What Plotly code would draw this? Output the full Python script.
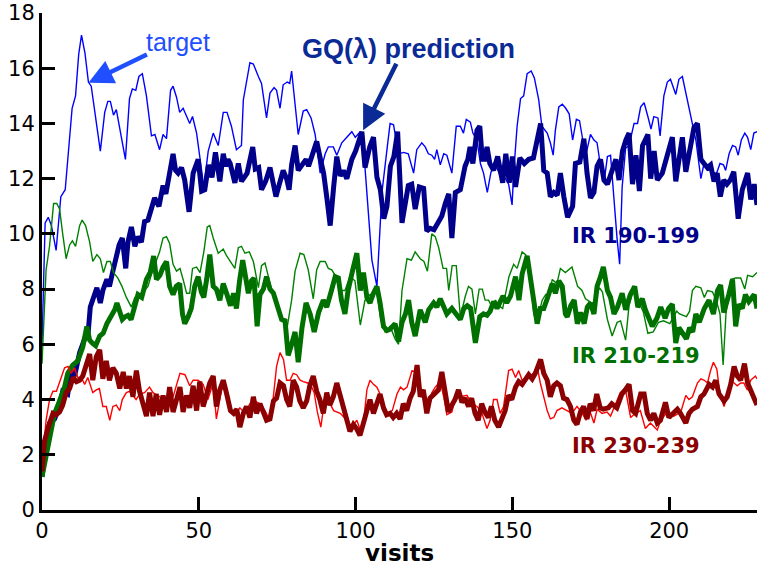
import plotly.graph_objects as go

# ---------------- data ----------------
# IR 190-199 target (thin blue)
tb_x = [0, 1, 2, 3, 4.5, 6, 7.4, 8.8, 9.6, 10.7, 11.7, 12.6, 13.7, 14.8, 15.7, 18.6, 20, 21, 21.8, 22.8,
        23.7, 26.6, 27.9, 28.8, 29.9, 30.9, 32, 33.3, 34.9, 36, 37.5, 38.6, 39.7, 41, 41.8, 42.9, 43.9, 45,
        46.1, 47.1, 48, 49.3, 51.6, 53, 54.6, 56.2, 57.8, 59, 60.4, 62, 63.6, 64.2, 66.3, 67.4, 69, 70,
        71.6, 72.7, 74, 74.8, 75.9, 76.9, 78.2, 79, 79.6, 81.7, 83.3, 84.4, 85.8, 87.1, 88.7, 90.3, 91.3,
        92.9, 94, 95.6, 97.2, 98.8, 99.9, 101.5, 103, 105.2, 106.8, 108.4, 110, 111, 112.1, 113.7, 115.3,
        116.8, 118.5, 119.5, 121.1, 122.2, 123.2, 124.3, 125.2, 125.9, 127, 128.1, 129.1, 130.7, 132.1,
        133.4, 134.4, 135.3, 136.6, 137.4, 138.7, 139.8, 140.8, 142, 143.1, 144.2, 146.2, 147.8, 148.8,
        149.9, 150.4, 151.5, 152.6, 153.6, 154.7, 156, 157, 158.4, 159.4, 161.1, 162.1, 163, 163.7, 164.8,
        165.9, 167, 168.1, 169.2, 170.4, 171.4, 172.3, 173.3, 174.9, 176, 177, 178.1, 179.2, 180.3, 181.3,
        182.4, 183.4, 184.2, 185, 186.1, 187.2, 188.8, 189.9, 190.9, 192, 193.2, 194.2, 195.1, 196.4,
        197.1, 198.3, 199.4, 200.4, 202.1, 203.1, 204.2, 205.3, 206.3, 207.4, 208.5, 210.1, 211.2, 212.2,
        213.8, 214.8, 216.2, 217.3, 218, 219.1, 220.2, 221.2, 222, 223, 224.1, 225, 226, 227, 228]
tb_y = [6.0, 10.4, 10.6, 10.3, 9.4, 11.35, 11.6, 13.5, 14.55, 15.0, 16.5, 17.2, 16.55, 15.5, 15.35, 13.0,
        14.4, 14.8, 14.8, 14.3, 14.5, 12.7, 14.9, 15.25, 15.2, 15.7, 15.8, 15.0, 13.55, 13.6, 13.05, 13.6,
        13.45, 15.2, 15.35, 14.95, 14.4, 14.55, 14.25, 14.0, 14.25, 13.65, 11.7, 13.0, 13.65, 13.2, 14.4,
        14.4, 13.9, 13.05, 13.2, 14.85, 16.2, 16.15, 15.7, 15.45, 14.2, 15.1, 15.3, 15.2, 14.55, 15.4,
        15.5, 15.45, 15.9, 13.6, 14.45, 14.5, 14.2, 13.6, 12.2, 12.9, 13.15, 13.15, 12.85, 13.3, 13.5,
        13.7, 13.5, 13.7, 12.4, 9.05, 8.1, 11.5, 13.05, 14.0, 13.95, 12.9, 12.95, 12.9, 12.2, 13.05, 13.3,
        13.15, 12.9, 12.85, 12.7, 13.05, 12.5, 12.9, 12.85, 12.2, 13.9, 13.9, 13.65, 14.15, 14.05, 13.65,
        13.4, 12.55, 12.2, 11.5, 12.2, 12.6, 12.1, 12.0, 11.8, 11.05, 12.2, 13.9, 14.9, 15.0, 15.8, 15.9,
        15.65, 14.85, 13.9, 13.65, 13.3, 12.85, 13.75, 14.6, 14.7, 14.55, 14.35, 13.4, 14.15, 14.1, 13.5,
        12.8, 13.6, 13.4, 13.3, 12.45, 11.85, 12.8, 12.85, 11.1, 9.8, 8.9, 11.7, 13.1, 13.2, 14.0, 14.0,
        14.6, 14.75, 14.25, 13.8, 14.25, 14.2, 13.55, 15.0, 15.5, 15.6, 15.05, 15.6, 15.7, 15.1, 14.6,
        14.0, 13.4, 12.0, 12.6, 12.3, 12.3, 12.1, 12.55, 12.5, 12.3, 12.9, 13.2, 13.15, 12.85, 13.4, 13.65,
        13.5, 13.05, 13.65, 13.7]

# IR 190-199 GQ(lambda) prediction (thick dark blue)
pb_x = [0, 1.2, 2.4, 4, 5.6, 6.6, 8.2, 9.3, 10.4, 12, 13.6, 14.7, 15.4, 16.3, 17.5, 18.6, 19.4, 20.7, 21.5,
        22.5, 23.7, 24.6, 25.6, 26.7, 27.4, 28.5, 29.6, 30.6, 31.7, 32.7, 33.8, 34.9, 35.9, 37.3, 38.6,
        39.5, 40.7, 41.8, 42.6, 43.4, 44.5, 45.5, 46.9, 48.2, 49.8, 50.9, 51.9, 53.1, 54.2, 55.3, 56.7,
        57.8, 58.6, 59.3, 60, 61.5, 62.6, 63.6, 65.4, 67.2, 68, 69.1, 70, 71.3, 72.7, 73.8, 74.6, 75.8,
        76.9, 78, 78.8, 79.6, 80.7, 81.7, 83, 84.2, 85, 86, 87.6, 88.8, 89.8, 90.9, 91.9, 93, 94, 95.1,
        96.1, 97.2, 98.8, 100, 101.2, 102, 103, 104.5, 105.7, 106.8, 107.9, 109, 110, 111.1, 112.2, 113.4,
        114.8, 115.9, 116.8, 117.9, 119, 120.3, 121.7, 122.7, 123.8, 125, 126.5, 127.5, 128.6, 129.7,
        130.7, 131.8, 133.4, 134.9, 135.8, 136.5, 137.4, 138.7, 139.6, 140.4, 141.2, 141.9, 142.8, 144,
        145.3, 146.9, 147.9, 149, 150, 151, 152.4, 153.8, 155.2, 156.7, 157.9, 159, 160, 161.1, 162.1,
        163.2, 164.3, 165.3, 166.4, 167.6, 169.2, 170.1, 171.5, 172.8, 173.8, 174.9, 176, 177, 178.1,
        179.2, 180.3, 181.3, 183, 184, 185.1, 186.2, 187.2, 188.3, 189.4, 190.5, 191.5, 193.2, 194.1,
        195.2, 196.2, 197.8, 199.4, 201, 202.1, 203.1, 204.2, 205.3, 206.8, 207.9, 209, 210.1, 211.1,
        212.2, 213.2, 214.3, 215.3, 216.3, 217.4, 218.4, 219.5, 220.6, 222, 223.3, 225, 226, 227.1, 228]
pb_y = [1.2, 2.4, 3.15, 3.3, 3.75, 4.3, 4.2, 5.05, 4.85, 5.7, 6.2, 6.4, 7.35, 7.6, 8.05, 7.5, 7.95, 8.35,
        8.1, 8.6, 9.3, 9.6, 9.85, 8.75, 9.7, 10.25, 9.55, 9.9, 9.7, 10.45, 10.5, 10.85, 11.3, 11.0, 11.75,
        11.45, 12.3, 12.9, 12.3, 12.2, 12.4, 11.95, 10.8, 12.2, 12.7, 11.55, 11.6, 12.5, 12.05, 12.95,
        11.9, 12.9, 12.45, 12.7, 12.55, 11.85, 12.55, 11.9, 12.2, 13.15, 12.35, 12.4, 11.6, 11.9, 12.4,
        11.8, 11.35, 11.85, 12.3, 12.0, 11.6, 12.5, 13.2, 12.3, 12.5, 12.7, 12.45, 12.8, 13.35, 12.7, 12.2,
        11.25, 10.3, 11.7, 12.8, 12.1, 12.3, 12.0, 12.7, 13.0, 13.5, 13.7, 12.4, 13.15, 13.5, 12.05, 11.6,
        10.55, 11.0, 12.45, 12.8, 13.7, 10.4, 11.3, 11.75, 11.8, 10.9, 11.7, 11.65, 10.1, 10.2, 10.15,
        10.5, 10.65, 11.1, 11.45, 9.85, 11.5, 11.6, 12.45, 12.7, 13.15, 12.55, 13.75, 13.9, 12.7, 12.7,
        13.15, 12.55, 12.3, 12.8, 11.85, 12.9, 11.85, 12.8, 11.7, 12.75, 12.55, 12.7, 12.75, 13.4, 14.0,
        12.3, 12.2, 11.35, 11.5, 11.4, 12.2, 11.35, 10.6, 11.0, 12.55, 12.6, 13.45, 12.2, 11.3, 11.5,
        12.45, 12.7, 11.95, 11.8, 12.1, 12.7, 11.95, 13.0, 13.4, 13.65, 11.8, 12.85, 11.55, 13.2, 13.6,
        12.0, 13.0, 11.95, 12.2, 12.8, 13.5, 11.9, 12.65, 13.5, 12.25, 13.15, 13.85, 14.0, 12.7, 12.55,
        12.4, 12.5, 11.9, 12.2, 11.35, 11.95, 11.8, 11.95, 12.25, 10.55, 11.6, 12.2, 11.25, 11.8, 11.05]

# IR 210-219 target (thin green)
tg_x = [0, 1.3, 2.4, 3, 3.7, 4.7, 5.6, 6.6, 7.7, 8.8, 9.7, 10.7, 12, 12.8, 13.9, 15.2, 16.2, 17.5, 18.6,
        19.6, 20.7, 21.8, 22.8, 24.2, 25.5, 26.9, 28.5, 29.6, 31.2, 32.7, 33.8, 35.2, 36.4, 37.5, 38.6,
        39.7, 40.7, 41.8, 42.9, 44, 45, 46.1, 47.1, 48, 49.3, 50.4, 51.6, 52.7, 53.5, 54.6, 56.2, 57.8,
        58.9, 60.4, 61.5, 62.6, 63.6, 64.7, 66.1, 67.4, 69, 70, 71.1, 72.1, 73.2, 74.8, 76.4, 78, 79.6,
        80.7, 82.3, 83.5, 84.9, 86.5, 87.6, 88.7, 90.3, 91.3, 92.4, 93.5, 95, 96.6, 98.2, 99.8, 101.5, 103,
        104.6, 106.8, 108, 109.4, 111, 112.6, 113.7, 114.8, 116.4, 117.8, 119, 120.6, 121.8, 122.9, 124.3,
        125.4, 126.5, 127.9, 129, 129.7, 130.8, 132.1, 133.4, 135, 136, 137.1, 138.2, 139.4, 140.4, 141.3,
        142.4, 143.5, 144.6, 145.7, 146.9, 148.9, 150.4, 151.5, 153.1, 154.2, 155.6, 156.8, 157.9, 159.5,
        160.6, 161.6, 162.7, 164.2, 165.3, 166.9, 168.3, 169, 170.8, 172.2, 173.3, 174.9, 176, 177.7,
        178.7, 180.3, 181.8, 183.4, 184.5, 186.1, 187.2, 188.5, 189.7, 191.8, 193.2, 194.9, 196.6, 198.2,
        200.2, 202.4, 203.3, 205.5, 206.5, 207.4, 208.5, 210.1, 211.2, 212.2, 213.8, 215, 216.2, 217.2,
        218.1, 219.6, 221.2, 222.8, 224.1, 225, 226.6, 228]
tg_y = [5.3, 8.7, 9.55, 10.4, 11.1, 11.1, 10.9, 10.0, 9.1, 9.6, 9.75, 9.55, 10.3, 10.5, 10.3, 9.7, 9.0,
        9.25, 9.1, 8.6, 9.0, 9.0, 8.6, 8.4, 8.1, 7.7, 7.35, 7.7, 7.8, 7.95, 8.1, 8.65, 9.0, 9.35, 9.85,
        9.9, 9.65, 8.9, 8.65, 8.75, 8.35, 7.85, 7.85, 8.75, 8.8, 8.6, 9.35, 10.25, 10.3, 9.85, 9.3, 9.45,
        9.2, 8.95, 8.75, 9.5, 9.55, 9.3, 9.35, 9.0, 8.05, 8.85, 8.95, 8.5, 7.95, 7.35, 7.0, 6.5, 7.6, 8.65,
        9.3, 9.25, 8.7, 7.65, 8.7, 9.0, 9.0, 8.75, 8.7, 8.5, 7.95, 7.95, 8.45, 8.3, 6.7, 7.6, 7.8, 7.9, 6.9,
        6.45, 6.65, 6.2, 6.0, 7.95, 9.1, 9.05, 9.35, 9.1, 9.0, 8.65, 10.0, 9.9, 9.5, 8.75, 8.75, 7.95, 8.85,
        8.85, 7.0, 7.75, 8.1, 8.0, 7.1, 8.0, 8.0, 7.6, 7.6, 7.35, 7.6, 7.4, 7.3, 8.45, 8.9, 8.75, 9.35,
        9.25, 8.75, 7.1, 6.85, 7.6, 7.8, 7.65, 8.35, 8.2, 8.75, 8.6, 8.75, 8.8, 8.1, 7.95, 7.65, 7.55,
        7.45, 8.05, 7.9, 6.9, 6.3, 6.8, 6.85, 6.15, 7.4, 7.95, 7.7, 7.15, 6.4, 6.45, 6.8, 6.85, 6.75, 7.2,
        7.1, 7.0, 7.2, 7.95, 8.1, 8.05, 7.7, 7.95, 7.9, 7.6, 7.1, 5.25, 7.1, 8.35, 8.4, 8.4, 8.0, 8.5,
        8.45, 8.6]

# IR 210-219 prediction (thick green)
pg_x = [0, 1.2, 2.4, 4, 5.6, 7.2, 8.2, 9.8, 11.4, 13, 14.3, 15.2, 16, 17.1, 18.4, 19.5, 20.7, 22.1, 23.2,
        23.9, 24.8, 25.6, 26.5, 27.4, 28.4, 29.6, 30.6, 31.8, 33.3, 34.5, 35.6, 36.5, 37.6, 38.6, 39.7,
        40.7, 41.8, 42.8, 43.9, 44.8, 45.5, 46.6, 47.6, 48.7, 49.8, 50.8, 51.6, 52.5, 53.5, 54.6, 55.6,
        56.7, 57.8, 59, 60.1, 61.1, 62, 63, 64, 65.8, 66.8, 67.6, 68.6, 69.5, 70.6, 71.6, 72.7, 73.8, 75,
        76.4, 77.5, 78.5, 79.6, 80.7, 81.7, 82.9, 84.2, 85.5, 86.8, 88.2, 89.7, 90.8, 92.3, 93.5, 94.5,
        95.5, 96.6, 97.6, 99.1, 100.4, 101.5, 102.5, 103.6, 104.6, 105.7, 106.8, 107.8, 108.9, 110, 111,
        112.6, 113.7, 114.8, 115.9, 116.9, 117.9, 119, 120.6, 122.2, 123.3, 124.9, 125.9, 127, 128.1,
        129.1, 130.7, 132.3, 133.4, 134.5, 135.6, 136.7, 137.2, 138.2, 139.6, 140.8, 141.9, 142.9, 144,
        145.1, 147, 148.2, 149.4, 151, 152.1, 153.1, 154.7, 155.7, 156.8, 157.9, 158.9, 160, 161.1, 162.7,
        163.7, 164.8, 165.9, 166.9, 167.5, 168.6, 169.7, 170.7, 171.8, 172.9, 173.9, 174.9, 176, 177,
        178.1, 179, 180.3, 181.3, 182.4, 183.5, 185, 186.1, 187.6, 189, 190, 191.4, 192.4, 193.5, 194.6,
        196.1, 197.3, 198.7, 199.8, 201, 202.1, 203.1, 204.4, 205.5, 206.5, 207.5, 208.5, 209.6, 211.2,
        212.7, 214.1, 215.4, 216.4, 217.4, 219, 220.2, 221.2, 222.2, 223.3, 224.3, 225.4, 227.1, 228]
pg_y = [1.2, 1.9, 2.65, 3.5, 3.95, 4.45, 4.95, 5.25, 5.4, 5.9, 6.65, 6.15, 6.05, 5.95, 6.3, 6.4, 6.75, 7.0,
        7.25, 7.5, 7.2, 6.9, 7.0, 7.05, 6.9, 7.45, 7.8, 7.7, 8.35, 8.6, 9.2, 8.35, 8.5, 8.8, 9.0, 8.1, 7.8,
        8.1, 8.2, 7.1, 6.75, 7.0, 7.3, 8.1, 8.45, 7.9, 7.7, 8.35, 9.25, 8.1, 8.0, 7.6, 8.2, 7.8, 7.4, 7.85,
        7.3, 8.3, 9.05, 7.85, 8.3, 8.4, 6.65, 7.8, 8.0, 8.45, 8.0, 7.85, 7.4, 6.9, 6.85, 5.6, 6.0, 6.45,
        5.35, 6.6, 7.5, 7.1, 6.45, 7.15, 7.6, 7.35, 7.95, 8.45, 8.4, 7.6, 7.1, 7.95, 8.7, 9.3, 7.95, 8.6,
        7.7, 7.5, 7.85, 8.1, 7.5, 6.65, 6.5, 6.55, 6.75, 6.1, 6.8, 7.1, 7.6, 6.8, 6.3, 7.25, 6.8, 7.25, 7.5,
        7.35, 7.65, 7.3, 7.1, 7.3, 7.1, 6.9, 7.3, 7.4, 7.3, 6.8, 6.05, 7.0, 7.1, 7.05, 7.2, 7.55, 7.3,
        7.75, 7.5, 7.75, 8.45, 7.6, 8.55, 9.2, 8.4, 7.75, 6.75, 7.3, 7.3, 7.65, 8.2, 7.85, 8.3, 8.1, 7.1,
        7.0, 7.4, 7.6, 6.75, 7.15, 6.75, 7.35, 7.5, 7.1, 8.1, 8.45, 8.8, 7.95, 7.7, 7.1, 7.35, 7.85, 7.25,
        7.8, 8.1, 7.35, 7.65, 7.25, 6.95, 6.65, 6.95, 7.35, 6.95, 7.3, 7.45, 6.05, 6.6, 6.35, 6.2, 6.6,
        6.45, 7.1, 6.8, 7.3, 7.6, 7.1, 7.95, 8.15, 7.15, 7.8, 8.35, 6.65, 7.45, 7.3, 7.8, 7.55, 7.8, 7.3]

# IR 230-239 target (thin red)
tr_x = [0, 1.3, 2.4, 3.5, 4.6, 5.6, 7.2, 8.3, 9.3, 10.4, 11.4, 12.5, 13.6, 14.6, 16.2, 17.3, 18.3, 19.4,
        20.5, 21.6, 22.6, 23.7, 24.8, 25.6, 26.9, 27.9, 29, 30, 31.1, 32.7, 34.3, 35.4, 37.6, 39.7, 41.8,
        44, 45.6, 47.1, 48.2, 49.8, 51.4, 52.9, 54.6, 55.6, 57.8, 58.9, 60.4, 61.5, 63.1, 64.7, 66.3, 67.9,
        69.5, 71.1, 72.2, 73.3, 74.8, 75.9, 77, 78, 79.1, 80.1, 81.2, 82.3, 83.3, 84.7, 85.8, 86.8, 87.8,
        88.9, 90.3, 91.4, 93, 95.1, 97.2, 98.8, 100.4, 101.5, 102.5, 103.6, 104.6, 105.7, 106.8, 107.8,
        109, 110, 111.7, 113.2, 114.3, 115.3, 116.4, 118, 119.1, 120.6, 122.2, 123.2, 124.3, 125.4, 127,
        128.1, 129.1, 130.7, 132.1, 133.4, 135.5, 137.1, 138.7, 140.3, 141.9, 142.9, 144, 145.1, 146.1,
        147.2, 148.8, 149.9, 151, 152, 153.1, 154.7, 156.8, 157.9, 158.9, 160, 161.1, 162.1, 163.2, 164.2,
        165.8, 167.4, 169, 170.6, 172, 173.5, 174.8, 176, 177, 178.6, 180.2, 181.3, 183.4, 184.4, 186,
        187.7, 188.7, 190.8, 192.4, 194, 196.2, 197.3, 199.4, 201.5, 203.7, 205.3, 206.3, 207.4, 209,
        210.1, 211.2, 212.2, 213.2, 214.1, 215.2, 216.2, 217.5, 218.5, 219.6, 220.7, 221.7, 222.8, 223.8,
        224.9, 226, 227.5, 228]
tr_y = [1.6, 3.25, 4.0, 4.3, 4.3, 4.6, 5.15, 5.2, 4.95, 5.15, 4.8, 4.8, 4.55, 4.8, 4.25, 4.35, 4.4, 3.75,
        3.75, 3.25, 3.75, 3.8, 3.6, 4.0, 4.25, 4.3, 4.15, 4.0, 4.2, 4.25, 4.45, 4.25, 4.1, 4.0, 4.1, 4.95,
        4.9, 4.5, 4.7, 4.7, 4.55, 4.0, 4.6, 3.3, 4.7, 4.4, 3.6, 3.45, 3.7, 3.5, 3.85, 3.95, 3.85, 3.6,
        3.35, 3.6, 5.2, 5.7, 5.45, 4.7, 4.7, 4.95, 4.9, 4.7, 4.65, 4.6, 4.5, 4.25, 3.55, 3.0, 4.1, 3.95,
        3.6, 3.5, 3.25, 3.0, 3.25, 2.9, 3.15, 4.35, 4.7, 4.55, 4.45, 4.2, 3.75, 3.5, 3.6, 4.2, 4.45, 4.35,
        4.45, 5.05, 5.0, 4.3, 4.15, 3.65, 4.25, 4.45, 4.65, 4.1, 3.45, 3.55, 4.2, 4.1, 4.15, 3.85, 3.75,
        3.5, 2.95, 3.25, 4.0, 4.0, 3.5, 3.75, 5.05, 5.1, 4.8, 5.05, 4.7, 4.8, 4.95, 5.2, 4.6, 4.1, 3.6, 3.3,
        3.35, 3.6, 3.7, 3.6, 3.5, 3.75, 3.55, 3.25, 3.55, 3.15, 3.65, 3.5, 3.55, 3.4, 4.0, 4.25, 4.4, 3.35,
        3.45, 3.6, 2.95, 3.15, 2.9, 3.25, 3.55, 3.4, 3.55, 4.15, 4.0, 4.1, 4.6, 4.75, 4.7, 4.6, 5.05, 5.35,
        5.1, 4.2, 3.75, 4.2, 4.7, 4.6, 4.5, 4.6, 4.6, 4.35, 4.7, 4.85, 4.75]

# IR 230-239 prediction (thick dark red)
pr_x = [0, 0.8, 2, 3.5, 4.5, 5.6, 6.6, 7.7, 8.8, 9.9, 11, 12, 13, 14.1, 15.2, 16.2, 17.3, 18.4, 19.4,
        20.5, 21.5, 22.6, 23.7, 24.8, 25.9, 26.9, 27.9, 29, 30.1, 31.1, 32.2, 33.3, 34.3, 35.4, 36.4, 37.5,
        38.6, 39.7, 40.7, 41.8, 42.9, 44, 45, 46.1, 47.1, 48.2, 49.3, 50.3, 51.4, 52.4, 53.5, 54.6, 55.6,
        56.7, 57.8, 58.9, 60.1, 61.1, 62.1, 63.1, 64.2, 65.2, 66.3, 67.4, 68.4, 69.5, 70.5, 71.6, 72.7,
        73.8, 74.8, 75.9, 77, 78, 79, 80.1, 81.2, 82.2, 83.3, 84.4, 85.4, 86.5, 87.6, 88.6, 89.7, 90.8,
        91.8, 92.9, 94, 95.1, 96.1, 97.2, 98.2, 99.3, 100.3, 101.4, 102.5, 103.5, 104.6, 105.7, 106.7,
        107.8, 108.9, 109.9, 111, 112, 113.1, 114.2, 115.2, 116.3, 117.4, 118.4, 119.6, 120.6, 121.6,
        122.7, 123.7, 124.8, 126.4, 127.5, 128.5, 129.6, 130.7, 131.7, 132.8, 133.9, 134.9, 136, 137,
        138.1, 139.1, 140.2, 141.2, 142.3, 143.3, 144.4, 145.6, 146.6, 147.7, 148.7, 149.8, 151, 152,
        153.1, 154.2, 155.2, 156.3, 157.3, 159, 160, 161.1, 162.1, 163.2, 164.2, 165.3, 166.3, 167.4,
        168.5, 169.6, 170.6, 171.7, 172.7, 173.8, 174.8, 175.9, 176.9, 178, 179, 180.6, 181.7, 183.3,
        184.9, 186, 187.2, 188.3, 189.3, 190.9, 192, 193, 194.1, 195.1, 196.2, 197.2, 198.8, 199.9, 201.5,
        202.6, 203.6, 205.3, 206.3, 207.4, 209, 210.1, 211.1, 212.7, 213.8, 214.8, 215.9, 217.5, 218.5,
        219.6, 220.7, 221.7, 222.8, 224, 225, 226.6, 228]
pr_y = [1.4, 2.5, 3.0, 3.5, 3.45, 3.55, 3.8, 4.25, 4.4, 4.8, 4.65, 4.7, 4.85, 5.3, 5.65, 4.7, 5.55, 5.8,
        4.75, 5.4, 4.7, 5.15, 4.95, 4.4, 5.0, 4.4, 4.85, 4.1, 5.05, 4.3, 3.75, 3.4, 4.25, 3.4, 4.2, 3.45,
        4.15, 3.55, 4.45, 3.55, 4.0, 4.45, 3.55, 4.15, 3.7, 4.5, 3.6, 4.65, 3.75, 4.2, 4.6, 4.85, 3.75,
        4.35, 4.7, 4.2, 3.6, 3.5, 3.65, 3.0, 3.5, 3.75, 3.35, 4.1, 3.5, 3.85, 3.6, 3.25, 3.3, 3.95, 4.05,
        4.6, 4.5, 4.0, 3.75, 4.7, 4.45, 3.95, 3.7, 3.95, 4.5, 4.85, 4.3, 4.0, 3.5, 4.25, 3.8, 4.1, 4.6, 4.1,
        3.75, 3.25, 2.85, 3.1, 2.95, 2.7, 3.1, 3.6, 4.0, 3.5, 3.85, 4.2, 3.7, 3.45, 3.5, 3.35, 3.5, 3.3,
        3.85, 3.6, 4.05, 4.3, 5.25, 4.1, 4.35, 3.5, 4.05, 4.2, 4.35, 5.0, 4.25, 3.55, 3.8, 4.0, 4.35, 3.9,
        4.05, 3.75, 4.05, 3.5, 3.25, 3.85, 3.55, 3.35, 3.75, 3.25, 3.0, 3.25, 3.6, 4.15, 4.0, 4.45, 4.65,
        4.55, 4.75, 4.9, 4.75, 4.95, 5.45, 4.95, 4.7, 4.1, 4.5, 4.6, 4.5, 4.05, 4.0, 3.75, 3.25, 3.1, 3.55,
        3.75, 3.3, 3.85, 3.6, 4.2, 3.7, 3.65, 3.7, 3.85, 3.7, 4.2, 4.35, 4.55, 3.6, 3.5, 4.2, 4.2, 3.5,
        3.25, 3.5, 3.15, 3.25, 3.9, 3.35, 3.5, 3.65, 3.5, 3.15, 3.5, 3.65, 3.75, 4.1, 4.2, 4.55, 4.45, 4.7,
        4.2, 3.95, 4.1, 4.55, 5.2, 4.85, 4.7, 5.3, 4.6, 4.2, 3.8]

x_ticks = [0, 50, 100, 150, 200]
y_ticks = [0, 2, 4, 6, 8, 10, 12, 14, 16, 18]
series_labels = ["IR 190-199", "IR 210-219", "IR 230-239"]
label_y = [9.93, 5.58, 2.32]

# ---------------- figure ----------------
fig = go.Figure()

thin_w = 1.4
thick_w = 5.0
pairs = [
    (tb_x, tb_y, pb_x, pb_y, "#0000ff", "#00008b"),
    (tg_x, tg_y, pg_x, pg_y, "#008000", "#007000"),
    (tr_x, tr_y, pr_x, pr_y, "#ff0000", "#8b0000"),
]
for tx, ty, px, py, c_thin, c_thick in pairs:
    fig.add_trace(go.Scatter(x=tx, y=ty, mode="lines", line=dict(color=c_thin, width=thin_w),
                             showlegend=False, hoverinfo="skip"))
    fig.add_trace(go.Scatter(x=px, y=py, mode="lines", line=dict(color=c_thick, width=thick_w),
                             showlegend=False, hoverinfo="skip"))

label_colors = ["#00008b", "#007000", "#8b0000"]
for txt, yv, col in zip(series_labels, label_y, label_colors):
    fig.add_annotation(x=168.5, y=yv, text="<b>%s</b>" % txt, showarrow=False, xanchor="left",
                       yanchor="middle", font=dict(family="DejaVu Sans", size=21, color=col))

# "target" annotation + arrow
fig.add_annotation(x=43.5, y=16.96, text="target", showarrow=False, xanchor="center", yanchor="middle",
                   font=dict(family="Liberation Sans", size=25, color="#1f4fff"))
fig.add_annotation(x=14.8, y=15.47, ax=60, ay=-29, text="", showarrow=True, arrowhead=2,
                   arrowsize=1.1, arrowwidth=4.5, arrowcolor="#1f4fff", axref="pixel", ayref="pixel")

# "GQ(lambda) prediction" annotation + arrow
fig.add_annotation(x=116.8, y=16.7, text="<b>GQ(λ) prediction</b>", showarrow=False, xanchor="center",
                   yanchor="middle", font=dict(family="Liberation Sans", size=27, color="#0a2a96"))
fig.add_annotation(x=102.4, y=13.75, ax=34, ay=-68, text="", showarrow=True, arrowhead=2,
                   arrowsize=1.1, arrowwidth=4.5, arrowcolor="#0a2a96", axref="pixel", ayref="pixel")

# x axis title
fig.add_annotation(x=0.5, xref="paper", y=-0.086, yref="paper", text="<b>visits</b>", showarrow=False,
                   yanchor="middle", font=dict(family="DejaVu Sans", size=23, color="black"))

axis_common = dict(showline=True, linewidth=3, linecolor="black", ticks="inside", ticklen=13,
                   tickwidth=3, tickcolor="black", showgrid=False, zeroline=False, mirror=False,
                   tickfont=dict(family="DejaVu Sans", size=21, color="black"))
fig.update_xaxes(range=[0, 228], tickvals=x_ticks, ticktext=[str(v) for v in x_ticks], **axis_common)
fig.update_yaxes(range=[0, 18], tickvals=y_ticks, ticktext=[str(v) for v in y_ticks], **axis_common)

fig.update_layout(width=758, height=568, margin=dict(l=42, r=1, t=13, b=58),
                  paper_bgcolor="white", plot_bgcolor="white")

fig.write_html("out.html")
